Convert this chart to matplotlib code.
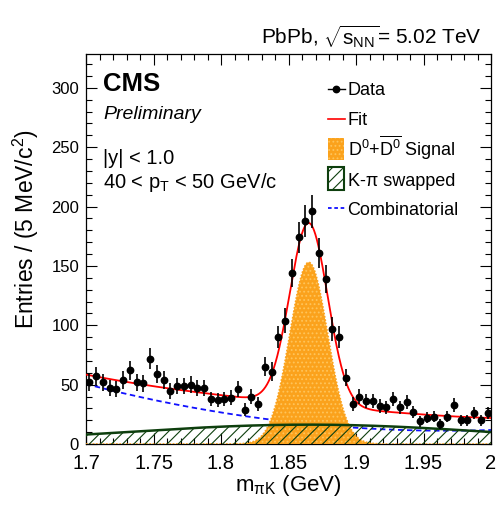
import numpy as np
import matplotlib
matplotlib.use('Agg')
import matplotlib.pyplot as plt
from matplotlib.patches import Rectangle
from matplotlib.lines import Line2D
from matplotlib.ticker import MultipleLocator, FixedLocator, FixedFormatter

plt.rcParams['font.family'] = ['Liberation Sans', 'DejaVu Sans']
plt.rcParams['mathtext.fontset'] = 'custom'
plt.rcParams['mathtext.rm'] = 'Liberation Sans'
plt.rcParams['mathtext.it'] = 'Liberation Sans:italic'
plt.rcParams['mathtext.bf'] = 'Liberation Sans:bold'
plt.rcParams['hatch.linewidth'] = 0.8

# ---------------- data ----------------
mass_lo = 1.7
mass_hi = 2.0
n_bins = 60
counts = [52, 57, 52, 47, 46, 54, 62, 52, 51, 72,
          59, 54, 45, 49, 49, 50, 47, 47, 38, 37,
          38, 39, 46, 29, 40, 34, 65, 61, 90, 104,
          144, 174, 188, 196, 161, 139, 97, 90, 56, 34,
          40, 36, 36, 32, 31, 38, 31, 35, 27, 19,
          22, 23, 17, 23, 33, 20, 20, 26, 20, 26]

# fit components
sig_amp, sig_mean, sig_sigma = 153.0, 1.865, 0.014
swap_amp, swap_mean, swap_sigma = 16.3, 1.865, 0.138
comb_coef = [50.5, -294.5, 551.5]   # polynomial in (m - 1.7)

x_ticks = [1.7, 1.75, 1.8, 1.85, 1.9, 1.95, 2.0]
x_tick_labels = ['1.7', '1.75', '1.8', '1.85', '1.9', '1.95', '2']
y_ticks = [0, 50, 100, 150, 200, 250, 300]
y_tick_labels = ['0', '50', '100', '150', '200', '250', '300']

legend_labels = ['Data', 'Fit', r'D$^{0}$+$\overline{\mathrm{D}^{0}}$ Signal',
                 'K-π swapped', 'Combinatorial']

# ---------------- figure ----------------
W, H = 499, 509
fig = plt.figure(figsize=(W / 100, H / 100), dpi=100)
AX_L, AX_R, AX_T, AX_B = 86, 491, 54, 444
ax = fig.add_axes([AX_L / W, 1 - AX_B / H, (AX_R - AX_L) / W, (AX_B - AX_T) / H])

def apx(px, py):
    return ((px - AX_L) / (AX_R - AX_L), (AX_B - py) / (AX_B - AX_T))

edges = np.linspace(mass_lo, mass_hi, n_bins + 1)
centers = 0.5 * (edges[:-1] + edges[1:])
y = np.array(counts, dtype=float)
yerr = np.sqrt(y)

m = np.linspace(mass_lo, mass_hi, 1500)
sig = sig_amp * np.exp(-0.5 * ((m - sig_mean) / sig_sigma) ** 2)
swap = swap_amp * np.exp(-0.5 * ((m - swap_mean) / swap_sigma) ** 2)
dm = m - mass_lo
comb = comb_coef[0] + comb_coef[1] * dm + comb_coef[2] * dm ** 2
fit = sig + swap + comb

orange = '#FBA21C'
orange_light = '#FFC45A'
dgreen = '#0E3F0E'

ax.plot(m, comb, color='#1010FF', lw=1.3, ls=(0, (3, 2)), zorder=2)
ax.fill_between(m, 0, sig, facecolor=orange, edgecolor=orange_light, hatch='....',
                lw=0, zorder=3)
ax.plot(m, sig, color=orange, lw=1.2, ls=(0, (1, 1)), zorder=3)
ax.fill_between(m, 0, swap, facecolor='none', edgecolor=dgreen, hatch='///', lw=0, zorder=4)
ax.plot(m, swap, color=dgreen, lw=1.8, zorder=4)
ax.plot(m, fit, color='#FF0000', lw=1.3, zorder=5)
ax.errorbar(centers, y, yerr=yerr, fmt='o', color='black', ms=4.6, elinewidth=1.2,
            capsize=0, zorder=6)

ax.set_xlim(mass_lo, mass_hi)
ax.set_ylim(0, 328.5)
ax.xaxis.set_major_locator(FixedLocator(x_ticks))
ax.xaxis.set_major_formatter(FixedFormatter(x_tick_labels))
ax.xaxis.set_minor_locator(MultipleLocator(0.01))
ax.yaxis.set_major_locator(FixedLocator(y_ticks))
ax.yaxis.set_major_formatter(FixedFormatter(y_tick_labels))
ax.yaxis.set_minor_locator(MultipleLocator(10))
ax.tick_params(which='both', direction='in', top=True, right=True, width=0.8)
ax.tick_params(which='major', length=8)
ax.tick_params(which='minor', length=4)
ax.tick_params(axis='x', labelsize=14.5, pad=7)
ax.tick_params(axis='y', labelsize=12, pad=5)
for s in ax.spines.values():
    s.set_linewidth(0.9)

ax.set_xlabel('m$_{\\mathrm{πK}}$ (GeV)', fontsize=16, labelpad=0)
fig.text(26 / W, 1 - 229 / H, r'Entries / (5 MeV/c$^{2}$)', rotation=90,
         ha='center', va='center', fontsize=16.5)

fig.text(482 / W, 1 - 44 / H, r'PbPb, $\sqrt{\mathrm{s}_{\mathrm{NN}}}$= 5.02 TeV',
         ha='right', va='baseline', fontsize=15)

tx = apx(103, 0)[0]
ax.text(tx, apx(0, 90.7)[1], 'CMS', fontweight='bold', fontsize=18.5,
        transform=ax.transAxes, va='baseline', ha='left')
ax.text(tx, apx(0, 119)[1], 'Preliminary', fontstyle='italic', fontsize=14,
        transform=ax.transAxes, va='baseline', ha='left')
ax.text(tx, apx(0, 164)[1], '|y| < 1.0', fontsize=14.5,
        transform=ax.transAxes, va='baseline', ha='left')
ax.text(tx, apx(0, 188.3)[1], r'40 < $\mathrm{p}_{\mathrm{T}}$ < 50 GeV/c', fontsize=14.5,
        transform=ax.transAxes, va='baseline', ha='left')

# ---------------- legend (manual) ----------------
lx0, lx1 = 328, 344.5
text_x = 347.5
baselines = [95, 125, 156, 186, 215]
centers_y = [89, 119, 149, 178.5, 208]
T = ax.transAxes
a0, yy = apx(lx0, centers_y[0]); a1, _ = apx(lx1, centers_y[0])
ax.add_line(Line2D([a0, a1], [yy, yy], color='black', lw=1.0, transform=T, clip_on=False))
ax.add_line(Line2D([(a0 + a1) / 2], [yy], marker='o', ms=4.6, color='black', transform=T,
                   clip_on=False))
_, yy = apx(0, centers_y[1])
ax.add_line(Line2D([a0, a1], [yy, yy], color='#FF0000', lw=1.2, transform=T, clip_on=False))
(bx0, by0) = apx(327.7, 160); (bx1, by1) = apx(344.3, 137.7)
ax.add_patch(Rectangle((bx0, by0), bx1 - bx0, by1 - by0, facecolor=orange,
                       edgecolor=orange_light, hatch='....', lw=0, transform=T, clip_on=False))
(bx0, by0) = apx(327.7, 190); (bx1, by1) = apx(344.3, 167)
ax.add_patch(Rectangle((bx0, by0), bx1 - bx0, by1 - by0, facecolor='white',
                       edgecolor=dgreen, hatch='///', lw=1.5, transform=T, clip_on=False))
_, yy = apx(0, centers_y[4])
ax.add_line(Line2D([a0, a1], [yy, yy], color='#1010FF', lw=1.3, ls=(0, (2, 1.5)),
                   transform=T, clip_on=False))
for lab, bl in zip(legend_labels, baselines):
    ax.text(apx(text_x, 0)[0], apx(0, bl)[1], lab, fontsize=13, transform=T,
            va='baseline', ha='left')

fig.savefig('out.png', dpi=100)
